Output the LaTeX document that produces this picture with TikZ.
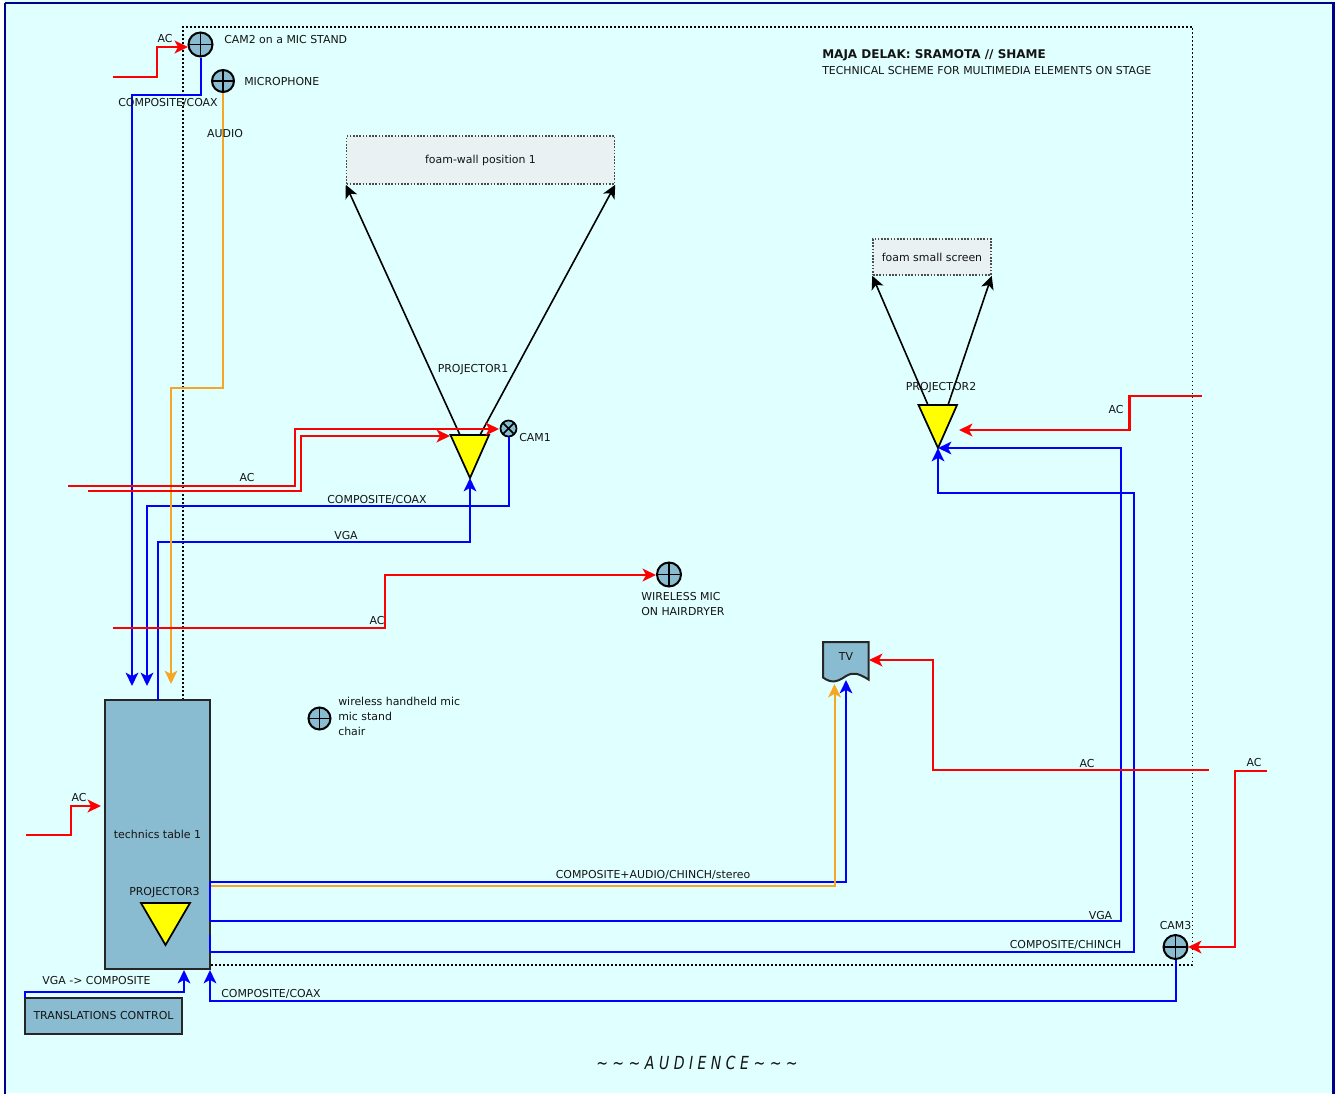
\documentclass[tikz,border=0pt]{standalone}
\usepackage{fontspec}
\setmainfont{DejaVu Sans}
\newfontfamily\audfont[FakeStretch=0.78]{DejaVu Sans}
\usetikzlibrary{arrows.meta}
\definecolor{bgc}{HTML}{E0FFFF}
\definecolor{navy2}{HTML}{00008B}
\definecolor{boxc}{HTML}{8ABCD1}
\definecolor{foamc}{HTML}{E9F1F2}
\definecolor{orangec}{HTML}{F5A623}
\definecolor{txtc}{HTML}{141414}
\definecolor{yelc}{HTML}{FFFF00}
\tikzset{
  x=0.75pt,y=-0.75pt,
  tipk/.style={-{Stealth[inset=2.6pt,length=10pt,width=9.5pt]}},
  redw/.style={draw=red,line width=1.8pt,tipk},
  bluew/.style={draw=blue,line width=1.5pt,tipk},
  bluep/.style={draw=blue,line width=1.5pt},
  orangew/.style={draw=orangec,line width=1.5pt,tipk},
  beam/.style={draw=black,line width=1.2pt,tipk},
  lbl/.style={inner sep=0pt,font=\fontsize{8.2}{11.2}\selectfont,text=txtc},
  lbll/.style={lbl,anchor=west,align=left},
  cross/.style={circle,draw=black,line width=1.5pt,fill=boxc,inner sep=0pt,minimum size=#1,
    path picture={\draw[black,line width=1.3pt]
      (path picture bounding box.north)--(path picture bounding box.south)
      (path picture bounding box.west)--(path picture bounding box.east);}},
  saltire/.style={circle,draw=black,line width=1.3pt,fill=boxc,inner sep=0pt,minimum size=#1,
    path picture={\draw[black,line width=1.2pt]
      (path picture bounding box.north west)--(path picture bounding box.south east)
      (path picture bounding box.north east)--(path picture bounding box.south west);}},
  foam/.style={draw=black!70,dash pattern=on 1.2pt off 1.2pt,line width=1.1pt,fill=foamc,inner sep=0pt,font=\fontsize{8.2}{11.2}\selectfont,text=txtc},
  tbl/.style={draw=black!85,line width=1.5pt,fill=boxc,inner sep=0pt,font=\fontsize{8.2}{11.2}\selectfont,text=txtc},
  proj/.style={draw=black,line width=1.3pt,fill=yelc,line join=miter},
}
\begin{document}
\begin{tikzpicture}
\useasboundingbox (0,0) rectangle (1335,1093);
\fill[bgc] (0,0) rectangle (1335,1093);
\fill[white] (0,0) rectangle (4,1093);
\draw[navy2,line width=1.6pt] (5,3) -- (1333.5,3) -- (1333.5,1100) (5,3) -- (5,1100);
\draw[black,dash pattern=on 1.4pt off 1.6pt,line width=1.4pt] (183,700) -- (183,27) -- (1192.5,27) -- (1192.5,965) -- (211,965);

% foam screens
\node[foam,minimum width=201pt,minimum height=36pt] (foamA) at (480.5,160) {foam-wall position 1};
\node[foam,minimum width=88.5pt,minimum height=27pt] (foamB) at (932,257) {foam small screen};

% boxes
\node[tbl,minimum width=78.75pt,minimum height=201.75pt] (table) at (157.5,834.5) {technics table 1};
\node[tbl,minimum width=117.75pt,minimum height=27pt] (trans) at (103.5,1016) {TRANSLATIONS CONTROL};
\path[tbl,draw=black!85] (823,642) -- (868.5,642) -- (868.5,679.5) .. controls (858,673) and (853,672) .. (846,676) .. controls (838,681.5) and (832,684) .. (823,677.5) -- cycle;
\node[lbl] (tv) at (846,657) {TV};

% projectors
\coordinate (pA1) at (460,435); \coordinate (pA2) at (480,435);
\coordinate (pAtip) at (470,478); \coordinate (pAl) at (450,436);
\coordinate (pB1) at (928,405); \coordinate (pB2) at (948,405);
\coordinate (pBtip) at (938,448); \coordinate (pBr) at (959,430);
\draw[proj] (450.5,435) -- (489,435) -- (pAtip) -- cycle;
\draw[proj] (918.5,405) -- (957,405) -- (pBtip) -- cycle;
\draw[proj] (141,903) -- (190,903) -- (165.5,945) -- cycle;

% cameras and mics
\node[cross=18pt] (cam2) at (200.5,44.5) {};
\node[cross=16.5pt] (mic) at (223,81) {};
\node[saltire=12pt] (cam1) at (508.5,428.5) {};
\node[cross=18pt] (wmic) at (669,574.5) {};
\node[cross=16.5pt] (hmic) at (319.5,718.5) {};
\node[cross=18pt] (cam3) at (1175.5,947) {};

% free ends and ports
\coordinate (acCam2) at (113,77);
\coordinate (acCam1) at (68,486);
\coordinate (acProj1) at (88,491);
\coordinate (acWmic) at (113,628);
\coordinate (acProj2) at (1202,396);
\coordinate (acTv) at (1209,770);
\coordinate (acCam3) at (1267,771);
\coordinate (acTable) at (26,835);
\coordinate (tIn1) at (132,686);
\coordinate (tIn2) at (147,686);
\coordinate (tIn3) at (171,684);
\coordinate (tOutV) at (158,700);
\coordinate (tAinL) at (101,806);
\coordinate (tB1) at (210,882);
\coordinate (tB2) at (211,885.5);
\coordinate (tB3) at (210,920.5);
\coordinate (tB4) at (210,952);
\coordinate (tS1) at (210,970);
\coordinate (tS2) at (184,970);
\coordinate (tvIn1) at (846,680);
\coordinate (tvIn2) at (834.5,684);
\coordinate (tvIn3) at (869,660);
\coordinate (transOut) at (25,998);
\coordinate (cam1In) at (499,429);
\coordinate (cam2In) at (188,47);
\coordinate (cam3In) at (1188,947);
\coordinate (wmicIn) at (656,575);

% beams
\draw[beam] (pA1) -- (foamA.south west);
\draw[beam] (pA2) -- (foamA.south east);
\draw[beam] (pB1) -- (foamB.south west);
\draw[beam] (pB2) -- (foamB.south east);

% blue
\draw[bluew] (cam2.south) -- (200.5,94.5) -- (132,94.5) -- (tIn1);
\draw[bluew] (cam1.south) -- (508.5,506) -- (147,506) -- (tIn2);
\draw[bluew] (tOutV) -- (158,541.5) -- (470,541.5) -- (pAtip);
\draw[bluep] (210,882) -- (210,920.5) (210,935) -- (210,952);
\draw[bluew] (tB1) -- (846,882) -- (tvIn1);
\draw[bluew] (tB3) -- (1121,920.5) -- (1121,448) -- (pBtip);
\draw[bluew] (tB4) -- (1134,952) -- (1134,493) -- (938,493) -- (pBtip);
\draw[bluew] (cam3.south) -- (1175.5,1001) -- (210,1001) -- (tS1);
\draw[bluew] (transOut) -- (25,992) -- (184,992) -- (tS2);

% orange
\draw[orangew] (mic.south) -- (223,388) -- (171,388) -- (tIn3);
\draw[orangew] (tB2) -- (834.5,885.5) -- (tvIn2);

% red
\draw[redw] (acCam2) -- (157,77) -- (157,47) -- (cam2In);
\draw[redw] (acCam1) -- (295,486) -- (295,429) -- (cam1In);
\draw[redw] (acProj1) -- (301,491) -- (301,436) -- (pAl);
\draw[redw] (acWmic) -- (385,628) -- (385,575) -- (wmicIn);
\draw[redw] (acProj2) -- (1129.5,396) -- (1129.5,430) -- (pBr);
\draw[redw] (acTv) -- (933,770) -- (933,660) -- (tvIn3);
\draw[redw] (acCam3) -- (1235,771) -- (1235,947) -- (cam3In);
\draw[redw] (acTable) -- (71,835) -- (71,806) -- (tAinL);

% labels
\node[lbl] (l1) at (165,39) {AC};
\node[lbll] (l2) at (224,39.5) {CAM2 on a MIC STAND};
\node[lbll] (l3) at (244,81.5) {MICROPHONE};
\node[lbl] (l4) at (168,103) {COMPOSITE/COAX};
\node[lbl] (l5) at (225,133.5) {AUDIO};
\node[lbll,font=\fontsize{9}{11.2}\selectfont\bfseries] (t1) at (822,55.5) {MAJA DELAK: SRAMOTA // SHAME};
\node[lbll] (t2) at (822,71) {TECHNICAL SCHEME FOR MULTIMEDIA ELEMENTS ON STAGE};
\node[lbl] (l6) at (473,370) {PROJECTOR1};
\node[lbll] (l7) at (519,438) {CAM1};
\node[lbl] (l8) at (247,478) {AC};
\node[lbl] (l9) at (377,500) {COMPOSITE/COAX};
\node[lbl] (l10) at (346,536) {VGA};
\node[lbl] (l11) at (377,620.5) {AC};
\node[lbll] (l12) at (641,604) {WIRELESS MIC\\ON HAIRDRYER};
\node[lbll,font=\fontsize{8.2}{11.3}\selectfont] (l13) at (338,716.5) {wireless handheld mic\\mic stand\\chair};
\node[lbl] (l14) at (941,388) {PROJECTOR2};
\node[lbl] (l15) at (1116,409.5) {AC};
\node[lbl] (l16) at (1087,763.5) {AC};
\node[lbl] (l17) at (1254,762.5) {AC};
\node[lbl] (l18) at (79,797.5) {AC};
\node[lbl] (l19) at (164.5,893) {PROJECTOR3};
\node[lbl] (l20) at (653,874.5) {COMPOSITE+AUDIO/CHINCH/stereo};
\node[lbl] (l21) at (1100.5,915.5) {VGA};
\node[lbl] (l22) at (1065.5,945) {COMPOSITE/CHINCH};
\node[lbl] (l23) at (1175.5,925.5) {CAM3};
\node[lbl] (l24) at (96.5,980.5) {VGA -> COMPOSITE};
\node[lbll] (l25) at (221,993.5) {COMPOSITE/COAX};
\node[lbl,font=\fontsize{13.5}{15}\audfont\itshape\selectfont] (aud) at (697,1062.5) {\char"007E\ \char"007E\ \char"007E\ A U D I E N C E \char"007E\ \char"007E\ \char"007E};
\end{tikzpicture}
\end{document}
